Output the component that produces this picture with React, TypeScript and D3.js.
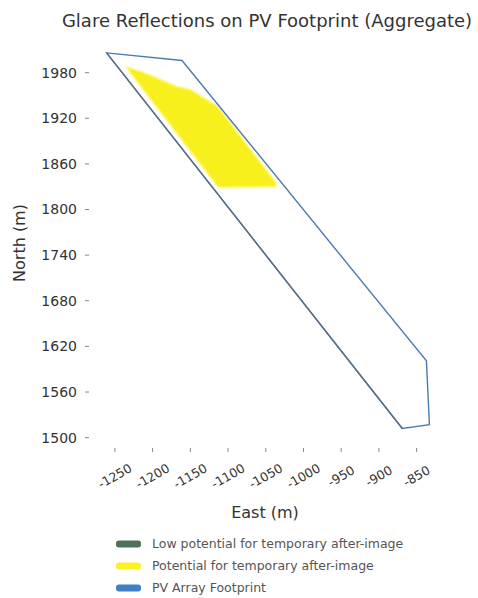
import * as d3 from "d3";

const W = 478, H = 598;
const M = { left: 90, right: 440, top: 40, bottom: 446 };

// axis ticks
const xTicks = [-1250, -1200, -1150, -1100, -1050, -1000, -950, -900, -850];
const yTicks = [1500, 1560, 1620, 1680, 1740, 1800, 1860, 1920, 1980];

// PV array footprint outline (East, North)
const footprintEast = [-1261, -1161, -837, -833, -869];
const footprintNorth = [2006, 1996, 1601, 1517, 1512];

// aggregate glare reflection region (potential for temporary after-image)
const glareEast = [-1236, -1216, -1194, -1168, -1150, -1132, -1114, -1036, -1036, -1113];
const glareNorth = [1988, 1982, 1973, 1962, 1958, 1947, 1936, 1835, 1830, 1829];

const legendLabels = [
  "Low potential for temporary after-image",
  "Potential for temporary after-image",
  "PV Array Footprint",
];
const legendColors = ["#4e7157", "#fbf224", "#3f7fc2"];

const FONT = "DejaVu Sans, sans-serif";

export default function App() {
  const x = d3.scaleLinear([-1283, -819], [M.left, M.right]);
  const y = d3.scaleLinear([1489, 2023], [M.bottom, M.top]);

  const line = d3
    .line<[number, number]>()
    .x((d) => x(d[0]))
    .y((d) => y(d[1]));

  const footprint = footprintEast.map((e, i) => [e, footprintNorth[i]] as [number, number]);
  const glare = glareEast.map((e, i) => [e, glareNorth[i]] as [number, number]);

  return (
    <div style={{ position: "absolute", left: 0, top: 0 }}>
      <svg width={W} height={H} style={{ display: "block", background: "#fff" }}>
        <defs>
          <filter id="soft" x="-10%" y="-10%" width="120%" height="120%">
            <feGaussianBlur stdDeviation="1.2" />
          </filter>
        </defs>
        <text x={267} y={27} textAnchor="middle" fontFamily={FONT} fontSize={18} fill="#333">
          Glare Reflections on PV Footprint (Aggregate)
        </text>

        {/* glare region */}
        <path d={line(glare) + "Z"} fill="#f8f01c" filter="url(#soft)" />

        {/* footprint */}
        <path d={line(footprint) + "Z"} fill="none" stroke="#4a7cb0" strokeWidth={1.4} />
        <path d={line([footprint[4], footprint[0]]) ?? ""} fill="none" stroke="#5d6e7e" strokeWidth={1.4} />

        {/* y axis */}
        {yTicks.map((t) => (
          <g key={t}>
            <line x1={85} x2={89} y1={y(t)} y2={y(t)} stroke="#888" strokeWidth={1} />
            <text x={77} y={y(t)} dy="0.35em" textAnchor="end" fontFamily={FONT} fontSize={14} fill="#333">
              {t}
            </text>
          </g>
        ))}
        <text
          transform={`translate(25,${(M.top + M.bottom) / 2}) rotate(-90)`}
          textAnchor="middle"
          fontFamily={FONT}
          fontSize={16}
          fill="#333"
        >
          North (m)
        </text>

        {/* x axis */}
        {xTicks.map((t) => (
          <g key={t}>
            <line x1={x(t)} x2={x(t)} y1={448} y2={452} stroke="#888" strokeWidth={1} />
            <text
              transform={`translate(${x(t)},476) rotate(-30)`}
              textAnchor="middle"
              dy="0.35em"
              fontFamily={FONT}
              fontSize={12.5}
              fill="#333"
            >
              {t}
            </text>
          </g>
        ))}
        <text x={265} y={518} textAnchor="middle" fontFamily={FONT} fontSize={16} fill="#333">
          East (m)
        </text>

        {/* legend */}
        {legendLabels.map((l, i) => (
          <g key={l} transform={`translate(116,${544 + i * 22})`}>
            <rect x={0} y={-3.5} width={25} height={7} rx={3} fill={legendColors[i]} />
            <text x={36} y={0} dy="0.35em" fontFamily={FONT} fontSize={12.5} fill="#555">
              {l}
            </text>
          </g>
        ))}
      </svg>
    </div>
  );
}
